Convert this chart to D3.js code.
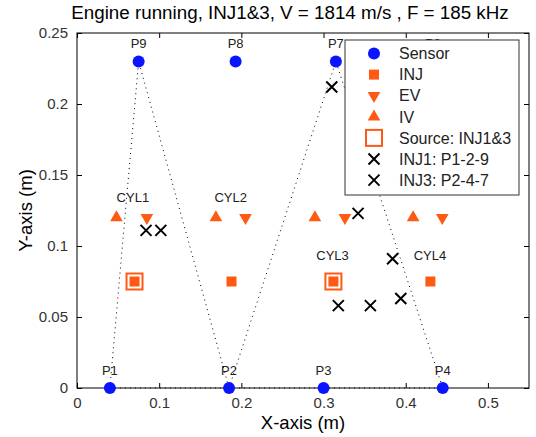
<!DOCTYPE html>
<html><head><meta charset="utf-8">
<script src="https://cdn.jsdelivr.net/npm/d3@7"></script>
<style>body{margin:0;background:#fff}svg{display:block}</style>
</head><body>
<script>
// ---- data ----
const sensorNames = ["P1","P2","P3","P4","P6","P7","P8","P9"];
const sensorX = [0.04,0.185,0.3,0.445,0.433,0.315,0.193,0.075];
const sensorY = [0,0,0,0,0.23,0.23,0.23,0.23];
const cylNames = ["CYL1","CYL2","CYL3","CYL4"];
const cylLabelX = [0.068,0.187,0.311,0.4295];
const cylLabelY = [0.131,0.131,0.09,0.09];
const injX = [0.07,0.188,0.312,0.43];
const injY = [0.075,0.075,0.075,0.075];
const evX = [0.085,0.205,0.326,0.4445];
const ivX = [0.048,0.169,0.2895,0.409];
const valveY = [0.12,0.12,0.12,0.12];
const sourceCyl = [0,2];
const inj1X = [0.084,0.102,0.342,0.394];
const inj1Y = [0.111,0.111,0.123,0.063];
const inj3X = [0.31,0.384,0.318,0.357];
const inj3Y = [0.212,0.091,0.058,0.058];
const tri1 = ["P1","P2","P9"];
const tri3 = ["P2","P4","P7"];
const xTicks = [0,0.1,0.2,0.3,0.4,0.5];
const yTicks = [0,0.05,0.1,0.15,0.2,0.25];
const legendLabels = ["Sensor","INJ","EV","IV","Source: INJ1&3","INJ1: P1-2-9","INJ3: P2-4-7"];
const titleText = "Engine running, INJ1&3, V = 1814 m/s , F = 185 kHz";

// ---- style ----
const W=536,H=437, L=77,R=529,T=33,B=388;
const ORANGE="#ff5a14", BLUE="#0a14ff";
const FONT="Arial, 'Liberation Sans', Helvetica, sans-serif";

const svg=d3.select("body").append("svg").attr("width",W).attr("height",H)
  .style("font-family",FONT);
const x=d3.scaleLinear().domain([0,0.55]).range([L,R]);
const y=d3.scaleLinear().domain([0,0.25]).range([B,T]);

// axes box
svg.append("rect").attr("x",L).attr("y",T).attr("width",R-L).attr("height",B-T)
  .attr("fill","#fff").attr("stroke","#000").attr("stroke-width",1);

const tk=5;
const gx=svg.append("g").attr("transform",`translate(0,${B})`)
  .call(d3.axisBottom(x).tickValues(xTicks).tickSize(-tk).tickPadding(9).tickFormat(d3.format("~g")));
const gxt=svg.append("g").attr("transform",`translate(0,${T})`)
  .call(d3.axisTop(x).tickValues(xTicks).tickSize(-tk).tickFormat(""));
const gy=svg.append("g").attr("transform",`translate(${L},0)`)
  .call(d3.axisLeft(y).tickValues(yTicks).tickSize(-tk).tickPadding(9).tickFormat(d3.format("~g")));
const gyr=svg.append("g").attr("transform",`translate(${R},0)`)
  .call(d3.axisRight(y).tickValues(yTicks).tickSize(-tk).tickFormat(""));
[gx,gxt,gy,gyr].forEach(g=>{g.select(".domain").remove();
  g.selectAll(".tick line").attr("stroke","#000");
  g.selectAll("text").attr("font-size",15).attr("fill","#333").style("font-family",FONT);});
gx.selectAll("text").attr("dy","0.71em");

// dotted triangles
const sx=n=>x(sensorX[sensorNames.indexOf(n)]), sy=n=>y(sensorY[sensorNames.indexOf(n)]);
const line=d3.line().x(sx).y(sy);
[tri1,tri3].forEach(t=>{
  svg.append("path").attr("d",line([...t,t[0]])).attr("fill","none")
    .attr("stroke","#000").attr("stroke-width",1).attr("stroke-dasharray","1,4");
});

const triUp=d3.symbol().type(d3.symbolTriangle).size(70);
// INJ squares
svg.append("g").selectAll("rect").data(injX).join("rect")
  .attr("x",(d)=>x(d)-5).attr("y",(d,i)=>y(injY[i])-5).attr("width",10).attr("height",10).attr("fill",ORANGE);
// source squares
svg.append("g").selectAll("rect").data(sourceCyl).join("rect")
  .attr("x",d=>x(injX[d])-8).attr("y",d=>y(injY[d])-8).attr("width",16).attr("height",16)
  .attr("fill","none").attr("stroke",ORANGE).attr("stroke-width",2);
// IV up triangles
svg.append("g").selectAll("path").data(ivX).join("path")
  .attr("d",triUp).attr("transform",(d,i)=>`translate(${x(d)},${y(valveY[i])})`).attr("fill",ORANGE);
// EV down triangles
svg.append("g").selectAll("path").data(evX).join("path")
  .attr("d",triUp).attr("transform",(d,i)=>`translate(${x(d)},${y(valveY[i])}) rotate(180)`).attr("fill",ORANGE);

// crosses
function cross(g,cx,cy,s){
  g.append("path").attr("d",`M${cx-s},${cy-s}L${cx+s},${cy+s}M${cx-s},${cy+s}L${cx+s},${cy-s}`)
   .attr("stroke","#000").attr("stroke-width",2).attr("fill","none");
}
const gc=svg.append("g");
inj1X.forEach((d,i)=>cross(gc,x(d),y(inj1Y[i]),5.5));
inj3X.forEach((d,i)=>cross(gc,x(d),y(inj3Y[i]),5.5));

// sensors
svg.append("g").selectAll("circle").data(sensorX).join("circle")
  .attr("cx",d=>x(d)).attr("cy",(d,i)=>y(sensorY[i])).attr("r",6).attr("fill",BLUE);
svg.append("g").selectAll("text").data(sensorNames).join("text")
  .attr("x",(d,i)=>x(sensorX[i])).attr("y",(d,i)=>y(sensorY[i])-13)
  .attr("text-anchor","middle").attr("font-size",13).attr("fill","#222").text(d=>d);
// cylinder labels
svg.append("g").selectAll("text").data(cylNames).join("text")
  .attr("x",(d,i)=>x(cylLabelX[i])).attr("y",(d,i)=>y(cylLabelY[i]))
  .attr("text-anchor","middle").attr("font-size",13).attr("fill","#222").text(d=>d);

// legend
const lg=svg.append("g");
lg.append("rect").attr("x",345).attr("y",40).attr("width",174).attr("height",155)
  .attr("fill","#fff").attr("stroke","#333").attr("stroke-width",1);
const ly0=53.5, ldy=21.1, lmx=374, ltx=399;
legendLabels.forEach((lab,i)=>{
  const cy=ly0+i*ldy;
  if(i===0) lg.append("circle").attr("cx",lmx).attr("cy",cy).attr("r",6).attr("fill",BLUE);
  if(i===1) lg.append("rect").attr("x",lmx-5).attr("y",cy-5).attr("width",10).attr("height",10).attr("fill",ORANGE);
  if(i===2) lg.append("path").attr("d",triUp).attr("transform",`translate(${lmx},${cy}) rotate(180)`).attr("fill",ORANGE);
  if(i===3) lg.append("path").attr("d",triUp).attr("transform",`translate(${lmx},${cy})`).attr("fill",ORANGE);
  if(i===4) lg.append("rect").attr("x",lmx-8).attr("y",cy-8).attr("width",16).attr("height",16).attr("fill","none").attr("stroke",ORANGE).attr("stroke-width",2);
  if(i>=5) cross(lg,lmx,cy,5.5);
  lg.append("text").attr("x",ltx).attr("y",cy).attr("dy","0.36em").attr("font-size",16).attr("fill","#222").text(lab);
});

// titles
svg.append("text").attr("x",290).attr("y",19).attr("text-anchor","middle")
  .attr("font-size",18.8).attr("fill","#000").text(titleText);
svg.append("text").attr("x",(L+R)/2).attr("y",429).attr("text-anchor","middle")
  .attr("font-size",18.5).attr("fill","#000").text("X-axis (m)");
svg.append("text").attr("transform",`translate(32,${(T+B)/2}) rotate(-90)`).attr("text-anchor","middle")
  .attr("font-size",18.5).attr("fill","#000").text("Y-axis (m)");
</script>
</body></html>
